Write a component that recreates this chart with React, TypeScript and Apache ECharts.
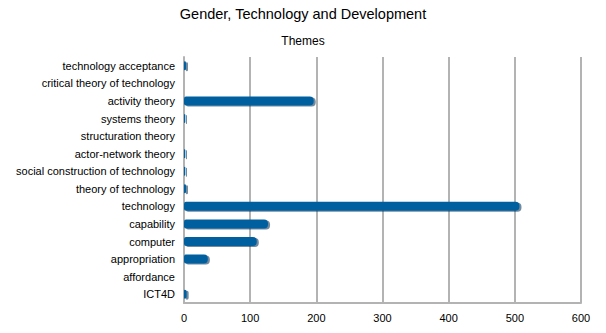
import React, { useEffect, useRef } from "react";
import * as echarts from "echarts";

const categories = [
  "technology acceptance",
  "critical theory of technology",
  "activity theory",
  "systems theory",
  "structuration theory",
  "actor-network theory",
  "social construction of technology",
  "theory of technology",
  "technology",
  "capability",
  "computer",
  "appropriation",
  "affordance",
  "ICT4D",
];
const values = [3, 0, 196, 2, 0, 2, 2, 3, 507, 127, 110, 36, 0, 4];
const xTicks = [0, 100, 200, 300, 400, 500, 600];

export default function App() {
  const ref = useRef<HTMLDivElement>(null);
  useEffect(() => {
    if (!ref.current) return;
    const chart = echarts.init(ref.current, null, { renderer: "svg" });
    const font = "'Liberation Sans', Arial, sans-serif";
    chart.setOption({
      animation: false,
      backgroundColor: "#ffffff",
      title: [
        {
          text: "Gender, Technology and Development",
          left: "center",
          top: 1,
          textStyle: { fontFamily: font, fontSize: 14.5, fontWeight: "normal", color: "#000" },
        },
        {
          text: "Themes",
          left: "center",
          top: 30,
          textStyle: { fontFamily: font, fontSize: 12, fontWeight: "normal", color: "#000" },
        },
      ],
      grid: { left: 184, right: 25, top: 57, bottom: 30, containLabel: false },
      xAxis: {
        type: "value",
        min: xTicks[0],
        max: xTicks[xTicks.length - 1],
        interval: 100,
        axisLine: { show: true, lineStyle: { color: "#b3b3b3", width: 2 } },
        axisTick: { show: false },
        splitLine: { show: true, lineStyle: { color: "#b3b3b3", width: 2 } },
        axisLabel: { color: "#000", fontFamily: font, fontSize: 11, margin: 9 },
      },
      yAxis: {
        type: "category",
        data: categories,
        inverse: true,
        axisLine: { show: true, lineStyle: { color: "#b3b3b3", width: 2 } },
        axisTick: { show: false },
        axisLabel: { color: "#000", fontFamily: font, fontSize: 11, margin: 9 },
      },
      series: [
        {
          type: "bar",
          data: values,
          barWidth: 9,
          itemStyle: {
            color: "#005f9e",
            borderRadius: [2, 4, 4, 2],
            shadowColor: "rgba(0,40,80,0.55)",
            shadowOffsetX: 2,
            shadowOffsetY: 1,
            shadowBlur: 0,
          },
        },
      ],
    });
    return () => chart.dispose();
  }, []);
  return (
    <div
      ref={ref}
      style={{ position: "absolute", left: 0, top: 0, width: 606, height: 333 }}
    />
  );
}
